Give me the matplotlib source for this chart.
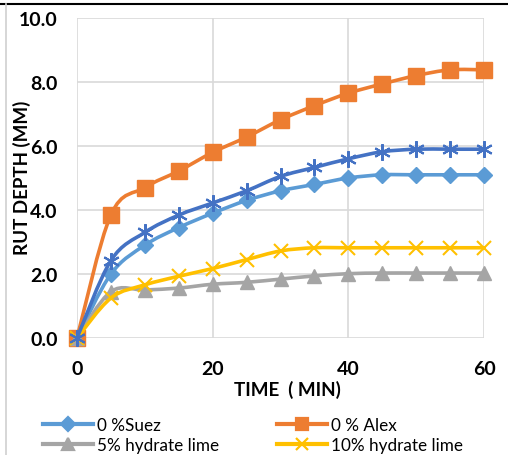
import numpy as np
import matplotlib
matplotlib.use("Agg")
import matplotlib.pyplot as plt
from matplotlib.path import Path
from matplotlib.patches import PathPatch
from matplotlib.lines import Line2D

# data
time_min = [0, 5, 10, 15, 20, 25, 30, 35, 40, 45, 50, 55, 60]
suez = [0, 2.0, 2.9, 3.45, 3.9, 4.3, 4.6, 4.8, 5.0, 5.1, 5.1, 5.1, 5.1]
alex = [0, 3.85, 4.7, 5.22, 5.8, 6.28, 6.82, 7.26, 7.65, 7.94, 8.2, 8.38, 8.38]
lime5 = [0, 1.45, 1.5, 1.56, 1.68, 1.74, 1.84, 1.94, 2.01, 2.03, 2.03, 2.03, 2.03]
lime10 = [0, 1.25, 1.66, 1.93, 2.17, 2.45, 2.72, 2.82, 2.82, 2.82, 2.82, 2.82, 2.82]
other = [0, 2.42, 3.3, 3.84, 4.22, 4.6, 5.05, 5.33, 5.6, 5.82, 5.9, 5.9, 5.9]

x_ticks = [0, 20, 40, 60]
y_ticks = [0, 2, 4, 6, 8, 10]

FONT = "Lato"


def smooth_path(x, y):
    # excel style smoothed line: cubic bezier through every point
    p = np.column_stack([x, y]).astype(float)
    n = len(p)
    verts = [p[0]]
    codes = [Path.MOVETO]
    for i in range(n - 1):
        p0 = p[i - 1] if i > 0 else p[i]
        p3 = p[i + 2] if i + 2 < n else p[i + 1]
        c1 = p[i] + (p[i + 1] - p0) / 6.0
        c2 = p[i + 1] - (p3 - p[i]) / 6.0
        verts += [c1, c2, p[i + 1]]
        codes += [Path.CURVE4] * 3
    return Path(verts, codes)


fig = plt.figure(figsize=(5.08, 4.56), dpi=100)
ax = fig.add_axes([77 / 508, 1 - 339 / 456, 407 / 508, 320 / 456])

series = [
    (suez, "#5B9BD5", "D", 8, "0 %Suez"),
    (alex, "#ED7D31", "s", 11, "0 % Alex"),
    (lime5, "#A5A5A5", "^", 10, "5% hydrate lime"),
    (lime10, "#FFC000", "x", 10, "10% hydrate lime"),
    (other, "#4472C4", (6, 2, 0), 12, None),
]

handles = {}
for k, (vals, col, mk, ms, lab) in enumerate(series):
    patch = PathPatch(smooth_path(time_min, vals), facecolor="none",
                      edgecolor=col, lw=2.6, zorder=3 + k, capstyle="round")
    ax.add_patch(patch)
    if mk in ("x",) or isinstance(mk, tuple):
        ax.plot(time_min, vals, linestyle="none", marker=mk, ms=ms,
                mec=col, mew=1.5, zorder=3 + k)
    else:
        ax.plot(time_min, vals, linestyle="none", marker=mk, ms=ms,
                mfc=col, mec=col, zorder=3 + k)
    if lab:
        handles[lab] = Line2D([], [], color=col, lw=3, marker=mk,
                              ms=ms * 0.85, mfc=col, mec=col, mew=1.6)

ax.set_xlim(0, 60)
ax.set_ylim(0, 10)
ax.set_xticks(x_ticks)
ax.set_yticks(y_ticks)
ax.set_yticklabels([f"{v:.1f}" for v in y_ticks])
ax.grid(True, color="#D9D9D9", lw=1.2)
ax.set_axisbelow(True)
for s in ax.spines.values():
    s.set_visible(False)
ax.tick_params(length=0)
ax.tick_params(axis="x", pad=16)
ax.tick_params(axis="y", pad=14)
for t in ax.get_xticklabels() + ax.get_yticklabels():
    t.set_fontfamily(FONT)
    t.set_fontweight("bold")
    t.set_fontsize(14)
for art in ax.patches + ax.lines:
    art.set_clip_on(False)

fig.text(287 / 508, 1 - 390 / 456, "TIME  ( MIN)", ha="center", va="center",
         fontfamily=FONT, fontweight="bold", fontsize=13.5)
fig.text(22 / 508, 1 - 178 / 456, "RUT DEPTH (MM)", ha="center", va="center",
         rotation=90, fontfamily=FONT, fontweight="bold", fontsize=13.5)

order = ["0 %Suez", "5% hydrate lime", "0 % Alex", "10% hydrate lime"]
fig.legend([handles[o] for o in order], order, ncol=2, loc="upper left",
           bbox_to_anchor=(43 / 508, 1 - 418 / 456), frameon=False,
           borderpad=0, borderaxespad=0, handlelength=2.9, handletextpad=0.25,
           columnspacing=3.4, labelspacing=0.25, numpoints=1,
           prop={"family": FONT, "size": 12.3})

# frame lines of the original screenshot
fig.add_artist(Line2D([0, 1], [1 - 5 / 456, 1 - 5 / 456], color="black",
                      lw=1.5, transform=fig.transFigure))
fig.add_artist(Line2D([6 / 508, 6 / 508], [0, 1 - 5 / 456], color="#D0D0D0",
                      lw=1.2, transform=fig.transFigure))

fig.savefig("out.png", dpi=100)
